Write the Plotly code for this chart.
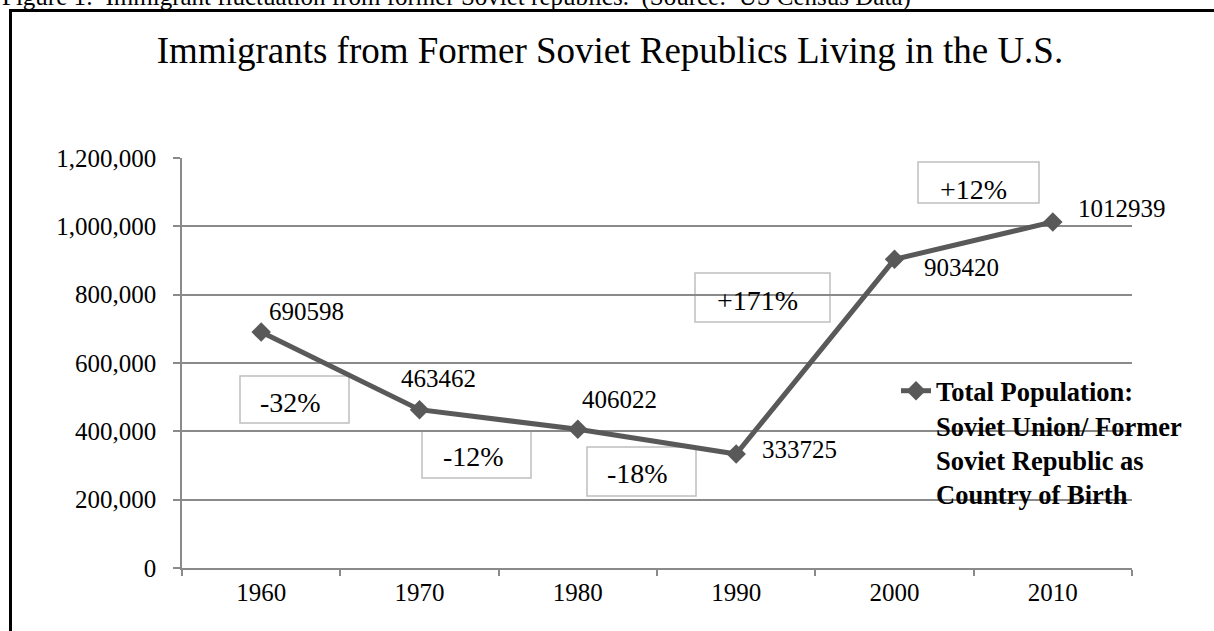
import plotly.graph_objects as go

# --- data -------------------------------------------------------------
years = ["1960", "1970", "1980", "1990", "2000", "2010"]
population = [690598, 463462, 406022, 333725, 903420, 1012939]
change_labels = ["-32%", "-12%", "-18%", "+171%", "+12%"]
y_ticks = [0, 200000, 400000, 600000, 800000, 1000000, 1200000]
series_name = ("<b>Total Population:</b><br><b>Soviet Union/ Former</b><br>"
               "<b>Soviet Republic as</b><br><b>Country of Birth</b>")
title_text = "Immigrants from Former Soviet Republics Living in the U.S."
caption_text = ("Figure 1:  Immigrant fluctuation from former Soviet republics.  "
                "(Source:  US Census Data)")

# --- geometry (pixels) ------------------------------------------------
W, H = 1214, 631
L, R, T, B = 182, 82, 158, 63
PW, PH = W - L - R, H - T - B
FONT = "Liberation Serif, Times New Roman, serif"
LINE = "#595959"
GRID = "#8a8a8a"


def px(X, Y):
    """Pixel position -> paper coordinates."""
    return (X - L) / PW, (H - B - Y) / PH


# value-label offsets from each marker (x right, y up)
label_shift = [(45, 21), (19, 31), (42, 30), (63, 4), (67, -8), (69, 13)]
# change boxes (left, top, right, bottom) and their text centres
boxes = [(240, 376, 349, 423), (422, 431, 531, 478), (587, 447, 696, 496),
         (695, 273, 830, 322), (918, 162, 1039, 203)]
box_text = [(290, 402), (473, 456), (637, 473), (757, 300), (973, 190)]

fig = go.Figure()
fig.add_trace(go.Scatter(
    x=years, y=population, name=series_name, mode="lines+markers",
    line=dict(color=LINE, width=5),
    marker=dict(symbol="diamond", size=15, color=LINE),
    showlegend=True,
))

annotations = []
for i, (val, (dx, dy)) in enumerate(zip(population, label_shift)):
    annotations.append(dict(
        x=i, y=val, xref="x", yref="y", text=str(val), showarrow=False,
        xanchor="center", yanchor="middle", xshift=dx, yshift=dy,
        font=dict(family=FONT, size=25, color="black"),
    ))

shapes = []
for (x0, y0, x1, y1), (tx, ty), lab in zip(boxes, box_text, change_labels):
    a0, b0 = px(x0, y0)
    a1, b1 = px(x1, y1)
    shapes.append(dict(type="rect", xref="paper", yref="paper",
                       x0=a0, y0=b0, x1=a1, y1=b1, layer="between",
                       line=dict(color="#bfbfbf", width=1.5),
                       fillcolor="white"))
    cx, cy = px(tx, ty)
    annotations.append(dict(
        x=cx, y=cy, xref="paper", yref="paper", text=lab, showarrow=False,
        xanchor="center", yanchor="middle",
        font=dict(family=FONT, size=28, color="black"),
    ))

# caption above the chart frame
cx, cy = px(0, -3)
annotations.append(dict(
    x=cx, y=cy, xref="paper", yref="paper", text=caption_text, showarrow=False,
    xanchor="left", yanchor="middle",
    font=dict(family=FONT, size=25, color="black"),
))

# chart frame
f0 = px(10.5, 10.5)
f1 = px(1240, 660)
shapes.append(dict(type="rect", xref="paper", yref="paper",
                   x0=f0[0], y0=f0[1], x1=f1[0], y1=f1[1], layer="above",
                   line=dict(color="black", width=3), fillcolor="rgba(0,0,0,0)"))

lx, ly = px(896, 367)
fig.update_layout(
    width=W, height=H,
    margin=dict(l=L, r=R, t=T, b=B, autoexpand=False),
    paper_bgcolor="white", plot_bgcolor="white",
    title=dict(text=title_text, x=610 / W, xref="container", xanchor="center",
               y=1 - 50 / H, yref="container", yanchor="middle",
               font=dict(family=FONT, size=37, color="black")),
    font=dict(family=FONT, size=25, color="black"),
    xaxis=dict(type="category", range=[-0.5, 5.5], showgrid=False,
               showline=True, linecolor=GRID, linewidth=1.5,
               ticks="outside", tickson="boundaries", ticklen=6,
               tickcolor=GRID, tickwidth=1.5, ticklabelstandoff=1,
               tickfont=dict(family=FONT, size=25, color="black")),
    yaxis=dict(range=[0, 1200000], tickvals=y_ticks, tickformat=",d",
               showgrid=True, gridcolor=GRID, gridwidth=1.5,
               showline=True, linecolor=GRID, linewidth=1.5,
               ticks="outside", ticklen=7, tickcolor=GRID, tickwidth=1.5,
               ticklabelstandoff=12, zeroline=False,
               tickfont=dict(family=FONT, size=25, color="black")),
    legend=dict(x=lx, y=ly, xanchor="left", yanchor="top",
                bgcolor="rgba(0,0,0,0)", valign="top",
                font=dict(family=FONT, size=26.5, color="black")),
    annotations=annotations,
    shapes=shapes,
)

fig.write_html("out.html")
